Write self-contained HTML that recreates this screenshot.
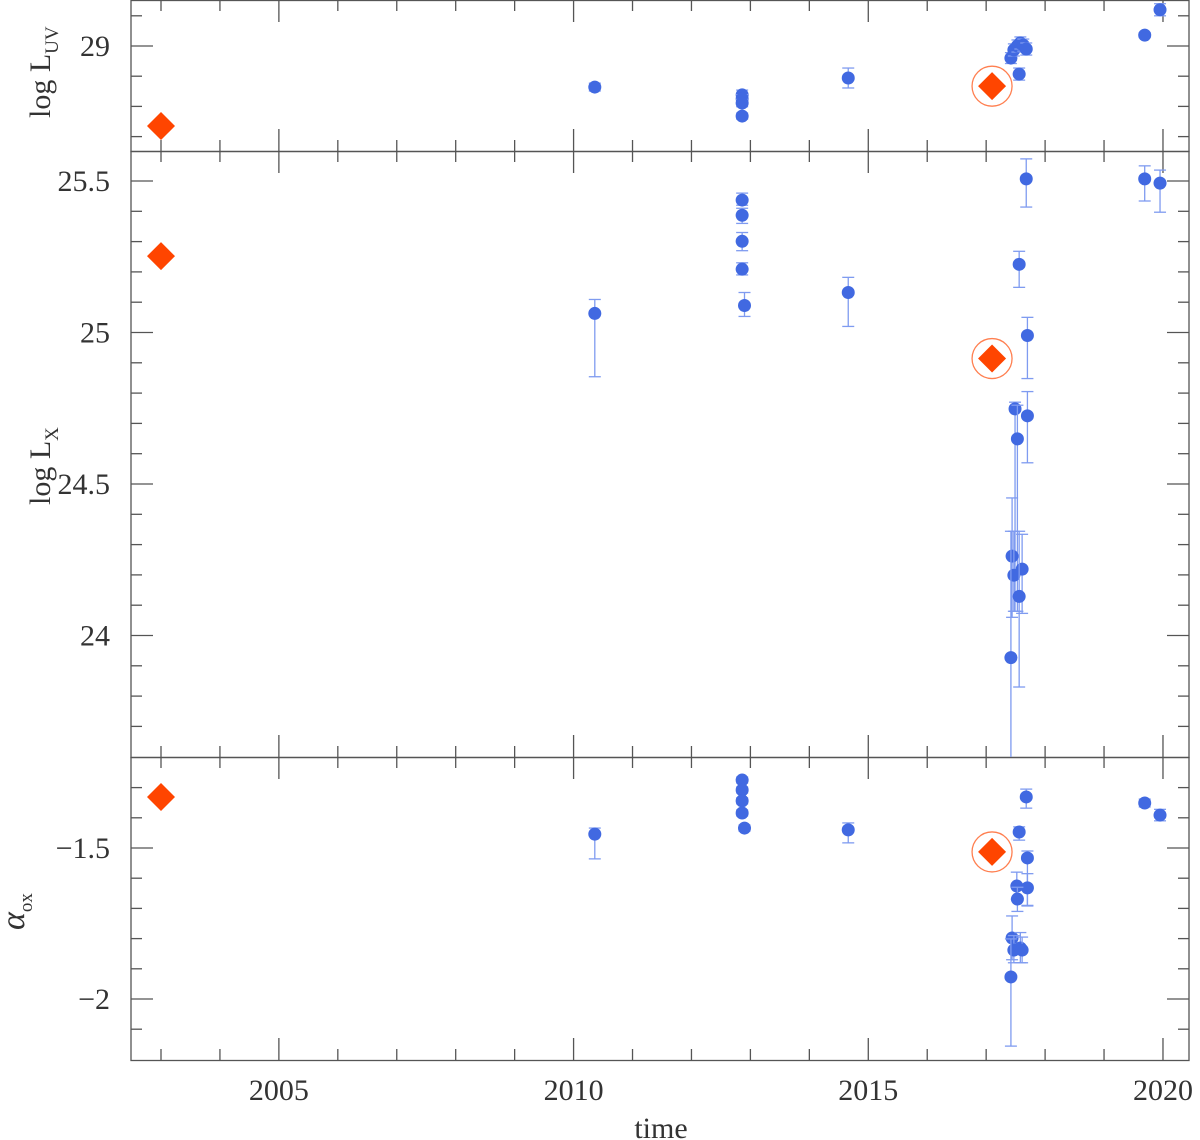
<!DOCTYPE html>
<html><head><meta charset="utf-8"><style>
body{margin:0;background:#fff}
svg{display:block}
text{font-family:"Liberation Serif",serif;fill:#333}
</style></head><body>
<svg id="chart" width="1200" height="1140" viewBox="0 0 1200 1140" xmlns="http://www.w3.org/2000/svg">
<defs>
<clipPath id="cp0"><rect x="131" y="0" width="1058" height="151"/></clipPath>
<clipPath id="cp1"><rect x="131" y="151" width="1058" height="606"/></clipPath>
<clipPath id="cp2"><rect x="131" y="757" width="1058" height="303"/></clipPath>
</defs>
<g id="axes"></g>
<g id="marks"></g>
<text x="661" y="1138" font-size="30" text-anchor="middle">time</text>
<text transform="translate(50,118) rotate(-90)" font-size="30">log L<tspan font-size="19" dy="8">UV</tspan></text>
<text transform="translate(50,505) rotate(-90)" font-size="30">log L<tspan font-size="19" dy="8">X</tspan></text>
<text transform="translate(24,930) rotate(-90)" font-size="34" font-style="italic">α<tspan font-size="19" dy="8" font-style="normal">ox</tspan></text>
</svg>
<script>
// x ticks
const xMajor = [2005, 2010, 2015, 2020];
// Panel UV
const uvYears = [2010.36,2012.86,2012.86,2012.86,2012.86,2014.66,2017.42,2017.47,2017.53,2017.58,2017.63,2017.68,2017.56,2019.69,2019.95];
const uvVals  = [28.864,28.838,28.825,28.811,28.768,28.894,28.960,28.987,29.0,29.01,29.003,28.99,28.907,29.036,29.12];
const uvErr   = [0.013,0.016,0.014,0.012,0.01,0.033,0.018,0.02,0.02,0.02,0.02,0.02,0.02,0.008,0.02];
const uvDiamYears = [2003, 2017.1];
const uvDiamVals = [28.735, 28.867];
// Panel X
const xYears = [2010.36,2012.86,2012.86,2012.86,2012.86,2012.9,2014.66,2017.56,2017.68,2017.70,2017.49,2017.53,2017.70,2017.44,2017.61,2017.47,2017.56,2017.42,2019.69,2019.95];
const xVals  = [25.063,25.437,25.387,25.301,25.209,25.089,25.132,25.225,25.507,24.99,24.748,24.649,24.725,24.262,24.219,24.199,24.129,23.927,25.507,25.493];
const xErrHi = [25.109,25.46,25.41,25.33,25.23,25.132,25.182,25.268,25.573,25.05,24.77,24.76,24.805,24.454,24.334,24.344,24.344,24.344,25.55,25.536];
const xErrLo = [24.854,25.42,25.36,25.27,25.19,25.053,25.02,25.149,25.414,24.848,24.08,24.08,24.57,24.06,24.073,24.08,23.83,23.5,25.434,25.397];
const xDiamYears = [2003, 2017.1];
const xDiamVals = [25.252, 24.914];
// Panel alpha_ox
const aYears = [2010.36,2012.86,2012.86,2012.86,2012.86,2012.9,2014.66,2017.68,2017.56,2017.70,2017.52,2017.70,2017.53,2017.44,2017.47,2017.58,2017.61,2017.42,2019.69,2019.95];
const aVals  = [-1.454,-1.275,-1.308,-1.344,-1.384,-1.434,-1.44,-1.331,-1.447,-1.533,-1.626,-1.632,-1.669,-1.798,-1.838,-1.831,-1.838,-1.927,-1.351,-1.391];
const aErrHi = [-1.434,-1.265,-1.298,-1.334,-1.374,-1.424,-1.417,-1.305,-1.43,-1.51,-1.58,-1.585,-1.63,-1.725,-1.79,-1.78,-1.795,-1.801,-1.338,-1.372];
const aErrLo = [-1.536,-1.285,-1.318,-1.354,-1.394,-1.444,-1.483,-1.368,-1.474,-1.692,-1.67,-1.69,-1.71,-1.87,-1.88,-1.88,-1.88,-2.156,-1.364,-1.41];
const aDiamYears = [2003, 2017.1];
const aDiamVals = [-1.331, -1.513];

const NS="http://www.w3.org/2000/svg";
const L=131,R=1189;
const xs = yr => 161 + (yr-2003)*58.94;
const panels = [
  {top:0,bot:151,y:v=>46-(v-29)*302,min:28.65,max:29.16,major:[29],labels:["29"],step:0.1,clip:"cp0"},
  {top:151,bot:757,y:v=>181-(v-25.5)*303,min:23.6,max:25.61,major:[24,24.5,25,25.5],labels:["24","24.5","25","25.5"],step:0.1,clip:"cp1"},
  {top:757,bot:1060,y:v=>848-(v+1.5)*302,min:-2.21,max:-1.19,major:[-2,-1.5],labels:["−2","−1.5"],step:0.1,clip:"cp2"}
];
const axes=document.getElementById('axes'), marks=document.getElementById('marks');
function mk(tag,attrs,parent){const e=document.createElementNS(NS,tag);for(const k in attrs)e.setAttribute(k,attrs[k]);parent.appendChild(e);return e;}
const AX="#555";
panels.forEach((p,pi)=>{
  const fr=mk('rect',{x:L,y:p.top+0.5,width:R-L,height:p.bot-p.top,fill:'none',stroke:AX,'stroke-width':1.3},axes);
  
  
  // y ticks
  for(let v=Math.ceil(p.min*10)/10; v<=p.max; v=Math.round((v+p.step)*10)/10){
    const isMaj=p.major.some(m=>Math.abs(m-v)<1e-6);
    const yy=p.y(v), len=isMaj?22:11;
    if(yy<p.top+1||yy>p.bot-1) continue;
    mk('line',{x1:L,x2:L+len,y1:yy,y2:yy,stroke:AX,'stroke-width':1.3},axes);
    mk('line',{x1:R-len,x2:R,y1:yy,y2:yy,stroke:AX,'stroke-width':1.3},axes);
  }
  p.major.forEach((m,i)=>{
    const t=mk('text',{x:110,y:p.y(m)+10,'font-size':30,'text-anchor':'end'},axes);
    t.textContent=p.labels[i];
    
    
  });
  // x ticks
  for(let yr=2003; yr<=2020; yr++){
    const isMaj=xMajor.includes(yr), len=isMaj?22:11, xx=xs(yr);
    mk('line',{x1:xx,x2:xx,y1:p.top,y2:p.top+len,stroke:AX,'stroke-width':1.3},axes);
    mk('line',{x1:xx,x2:xx,y1:p.bot-len,y2:p.bot,stroke:AX,'stroke-width':1.3},axes);
  }
});
xMajor.forEach(yr=>{
  const t=mk('text',{x:xs(yr),y:1100,'font-size':30,'text-anchor':'middle'},axes);
  t.textContent=String(yr);
  
  
});
function series(p,years,vals,lo,hi,name){
  const g=mk('g',{'clip-path':'url(#'+p.clip+')'},marks);
  
  
  years.forEach((yr,i)=>{
    const x=xs(yr),y=p.y(vals[i]),y1=p.y(hi[i]),y2=p.y(lo[i]);
    mk('line',{x1:x,x2:x,y1:y1,y2:y2,stroke:'#7f9bf0','stroke-width':1.3},g);
    mk('line',{x1:x-6,x2:x+6,y1:y1,y2:y1,stroke:'#7f9bf0','stroke-width':1.3},g);
    mk('line',{x1:x-6,x2:x+6,y1:y2,y2:y2,stroke:'#7f9bf0','stroke-width':1.3},g);
    const c=mk('circle',{cx:x,cy:y,r:6.5,fill:'#4169e1'},g);
    
    
  });
}
function diamonds(p,years,vals,name){
  years.forEach((yr,i)=>{
    const x=xs(yr),y=p.y(vals[i]),s=14;
    if(i===1){
      const ring=mk('circle',{cx:x,cy:y,r:20,fill:'none',stroke:'#ff7f50','stroke-width':1.3},marks);
      
      
    }
    const d=mk('polygon',{points:`${x},${y-s} ${x+s},${y} ${x},${y+s} ${x-s},${y}`,fill:'#ff4500'},marks);
    
    
  });
}
series(panels[0],uvYears,uvVals,uvVals.map((v,i)=>v-uvErr[i]),uvVals.map((v,i)=>v+uvErr[i]),'luv-series');
series(panels[1],xYears,xVals,xErrLo,xErrHi,'lx-series');
series(panels[2],aYears,aVals,aErrLo,aErrHi,'aox-series');
diamonds(panels[0],uvDiamYears,uvDiamVals,'luv-diamond');
diamonds(panels[1],xDiamYears,xDiamVals,'lx-diamond');
diamonds(panels[2],aDiamYears,aDiamVals,'aox-diamond');
</script>
</body></html>
